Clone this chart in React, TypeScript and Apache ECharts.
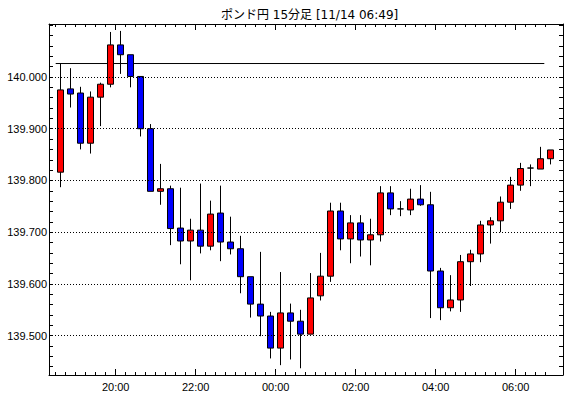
import { useEffect, useRef } from 'react';
import * as echarts from 'echarts';

const title = 'ポンド円 15分足 [11/14 06:49]';

const times = [
  '18:30', '18:45', '19:00', '19:15', '19:30', '19:45', '20:00', '20:15', '20:30', '20:45',
  '21:00', '21:15', '21:30', '21:45', '22:00', '22:15', '22:30', '22:45', '23:00', '23:15',
  '23:30', '23:45', '00:00', '00:15', '00:30', '00:45', '01:00', '01:15', '01:30', '01:45',
  '02:00', '02:15', '02:30', '02:45', '03:00', '03:15', '03:30', '03:45', '04:00', '04:15',
  '04:30', '04:45', '05:00', '05:15', '05:30', '05:45', '06:00', '06:15', '06:30', '06:45',
];

const opens = [
  139.816, 139.977, 139.969, 139.872, 139.961, 139.986, 140.062, 140.043, 140.001, 139.900,
  139.779, 139.784, 139.708, 139.683, 139.704, 139.673, 139.737, 139.681, 139.668, 139.614,
  139.561, 139.538, 139.476, 139.544, 139.528, 139.503, 139.577, 139.615, 139.741, 139.687,
  139.718, 139.685, 139.695, 139.776, 139.745, 139.743, 139.764, 139.753, 139.625, 139.554,
  139.569, 139.643, 139.658, 139.714, 139.722, 139.758, 139.791, 139.824, 139.822, 139.842,
];
const closes = [
  139.975, 139.967, 139.872, 139.961, 139.986, 140.062, 140.043, 140.001, 139.900, 139.779,
  139.784, 139.707, 139.683, 139.704, 139.673, 139.735, 139.681, 139.668, 139.614, 139.561,
  139.538, 139.476, 139.544, 139.528, 139.503, 139.573, 139.615, 139.741, 139.687, 139.718,
  139.685, 139.695, 139.776, 139.745, 139.745, 139.764, 139.753, 139.625, 139.554, 139.569,
  139.643, 139.658, 139.714, 139.722, 139.758, 139.791, 139.823, 139.824, 139.842, 139.859,
];
const lows = [
  139.787, 139.941, 139.860, 139.852, 139.905, 139.980, 140.006, 139.980, 139.885, 139.779,
  139.753, 139.675, 139.638, 139.607, 139.659, 139.665, 139.644, 139.657, 139.582, 139.535,
  139.499, 139.456, 139.443, 139.454, 139.437, 139.503, 139.568, 139.604, 139.665, 139.640,
  139.653, 139.636, 139.682, 139.733, 139.731, 139.733, 139.751, 139.534, 139.530, 139.547,
  139.546, 139.596, 139.642, 139.678, 139.700, 139.745, 139.780, 139.789, 139.822, 139.831,
];
const highs = [
  140.027, 140.017, 139.981, 139.972, 139.989, 140.087, 140.089, 140.043, 140.001, 139.909,
  139.832, 139.790, 139.786, 139.726, 139.794, 139.761, 139.790, 139.730, 139.693, 139.614,
  139.662, 139.546, 139.623, 139.562, 139.550, 139.621, 139.660, 139.757, 139.757, 139.733,
  139.733, 139.726, 139.789, 139.789, 139.760, 139.784, 139.791, 139.778, 139.631, 139.617,
  139.656, 139.666, 139.722, 139.729, 139.769, 139.807, 139.834, 139.831, 139.865, 139.859,
];

const yLabelValues = [139.5, 139.6, 139.7, 139.8, 139.9, 140.0];
const xLabelTimes = ['20:00', '22:00', '00:00', '02:00', '04:00', '06:00'];
const refLevel = 140.026;
const refSpan = [0, 48.86];

// layout constants
const X_MIN = -0.67;
const X_MAX = 50.73;
const Y_MIN = 139.424;
const Y_MAX = 140.1024;
const FONT = '"Liberation Sans", Arial, sans-serif';

export default function App() {
  const ref = useRef<HTMLDivElement>(null);
  useEffect(() => {
    if (!ref.current) return;
    const chart = echarts.init(ref.current, undefined, { renderer: 'svg' });

    const boundaries = times.map((_, i) => i);
    const labelPositions = xLabelTimes.map((t) => times.indexOf(t));
    const yMinor: number[] = [];
    for (let k = 0; k <= 33; k++) yMinor.push(Math.round((139.44 + k * 0.02) * 1000) / 1000);

    const candleData = times.map((_, i) => [i + 0.5, opens[i], closes[i], lows[i], highs[i]]);

    const baseX = {
      type: 'value' as const,
      min: X_MIN,
      max: X_MAX,
      splitLine: { show: false },
    };
    const baseY = {
      type: 'value' as const,
      min: Y_MIN,
      max: Y_MAX,
      splitLine: { show: false },
      scale: true,
    };

    chart.setOption({
      animation: false,
      backgroundColor: '#ffffff',
      title: {
        text: title,
        left: 216,
        top: 4,
        textStyle: {
          fontFamily: '"DejaVu Sans", "Noto Sans CJK JP", sans-serif',
          fontSize: 12,
          fontWeight: 'normal',
          color: '#000',
        },
      },
      grid: { left: 49, top: 24, width: 514, height: 351, containLabel: false },
      xAxis: [
        {
          ...baseX,
          position: 'bottom',
          axisLine: { show: true, onZero: false, lineStyle: { color: '#000', width: 1 } },
          axisTick: { show: true, inside: true, length: 3, customValues: boundaries, lineStyle: { color: '#000' } },
          axisLabel: {
            show: true,
            customValues: labelPositions,
            formatter: (v: number) => {
              const idx = labelPositions.indexOf(Math.round(v));
              return idx >= 0 ? xLabelTimes[idx] : '';
            },
            margin: 6,
            color: '#000',
            fontSize: 11,
            fontFamily: FONT,
          },
        },
        {
          ...baseX,
          position: 'bottom',
          axisLine: { show: false, onZero: false },
          axisTick: { show: true, inside: true, length: 6, customValues: labelPositions, lineStyle: { color: '#000' } },
          axisLabel: { show: false },
        },
        {
          ...baseX,
          position: 'top',
          axisLine: { show: true, onZero: false, lineStyle: { color: '#000', width: 1 } },
          axisTick: { show: true, inside: true, length: 3, customValues: boundaries, lineStyle: { color: '#000' } },
          axisLabel: { show: false },
        },
        {
          ...baseX,
          position: 'top',
          axisLine: { show: false, onZero: false },
          axisTick: { show: true, inside: true, length: 6, customValues: labelPositions, lineStyle: { color: '#000' } },
          axisLabel: { show: false },
        },
      ],
      yAxis: [
        {
          ...baseY,
          position: 'left',
          axisLine: { show: true, onZero: false, lineStyle: { color: '#000', width: 1 } },
          axisTick: { show: true, inside: true, length: 4, customValues: yMinor, lineStyle: { color: '#000' } },
          axisLabel: {
            show: true,
            customValues: yLabelValues,
            formatter: (v: number) => v.toFixed(3),
            margin: 2,
            color: '#000',
            fontSize: 11,
            fontFamily: FONT,
          },
        },
        {
          ...baseY,
          position: 'right',
          axisLine: { show: true, onZero: false, lineStyle: { color: '#000', width: 1 } },
          axisTick: { show: true, inside: true, length: 4, customValues: yMinor, lineStyle: { color: '#000' } },
          axisLabel: { show: false },
        },
      ],
      series: [
        {
          type: 'line',
          xAxisIndex: 0,
          yAxisIndex: 0,
          data: [
            [refSpan[0], refLevel],
            [refSpan[1], refLevel],
          ],
          symbol: 'none',
          silent: true,
          z: 1,
          lineStyle: { color: '#000', width: 1 },
          markLine: {
            silent: true,
            symbol: ['none', 'none'],
            label: { show: false },
            lineStyle: { color: '#000', width: 1, type: [1, 2] },
            emphasis: { disabled: true },
            data: yLabelValues.map((v) => ({ yAxis: v })),
          },
        },
        {
          type: 'candlestick',
          xAxisIndex: 0,
          yAxisIndex: 0,
          data: candleData,
          barWidth: 6,
          z: 3,
          itemStyle: {
            color: '#ff0000',
            color0: '#0000ff',
            borderColor: '#000',
            borderColor0: '#000',
            borderColorDoji: '#000',
            borderWidth: 1,
          },
        },
      ],
    });
    return () => chart.dispose();
  }, []);

  return (
    <div
      ref={ref}
      style={{ position: 'fixed', left: 0, top: 0, width: 570, height: 398, background: '#fff' }}
    />
  );
}
